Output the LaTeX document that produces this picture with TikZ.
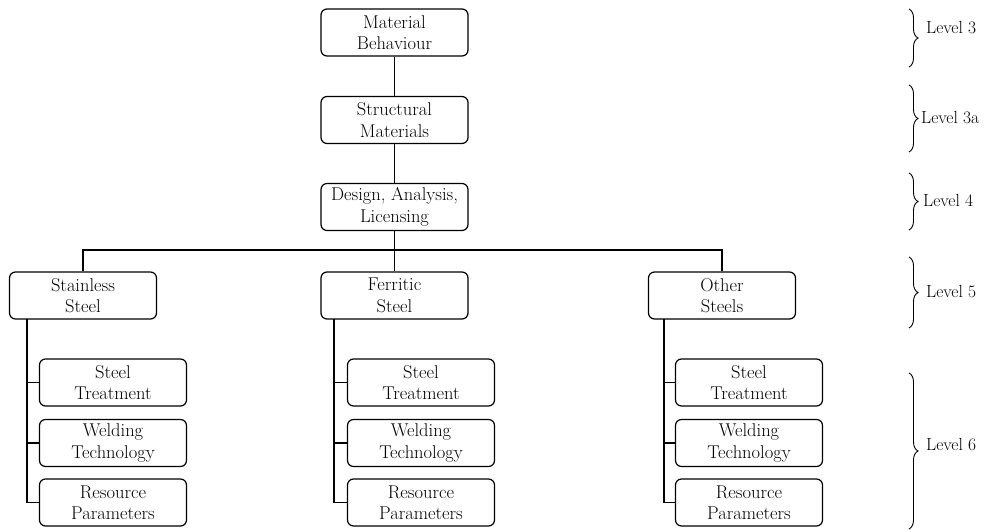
\documentclass[tikz,border=0pt]{standalone}
\usetikzlibrary{decorations.pathreplacing}
\begin{document}
\begin{tikzpicture}[x=1pt,y=-1pt,
  box/.style={draw, rounded corners=6pt, line width=1.2pt,
    minimum width=147pt, minimum height=47pt, align=center, inner sep=0pt,
    font=\rmfamily\fontsize{18.5}{21.5}\selectfont},
  link/.style={line width=1.2pt},
  lvlbrace/.style={decorate, decoration={brace, amplitude=9pt}, line width=0.9pt},
  lvltext/.style={anchor=west, inner sep=0pt, font=\rmfamily\fontsize{17.5}{21}\selectfont}]
\useasboundingbox (0,0) rectangle (1005,531);

% upper chain
\node[box] (mb)  at (394.5,32.5) {Material\\Behaviour};
\node[box] (sm)  at (394.5,120)  {Structural\\Materials};
\node[box] (dal) at (394.5,207)  {Design, Analysis,\\Licensing};

% steel families
\node[box] (ss) at (83,295.5)  {Stainless\\Steel};
\node[box] (fs) at (394.5,295.5) {Ferritic\\Steel};
\node[box] (os) at (722,295.5) {Other\\Steels};

% topics under each family
\foreach \fam/\cx in {ss/113, fs/421, os/749}{
  \node[box] (\fam t) at (\cx,382.5) {Steel\\Treatment};
  \node[box] (\fam w) at (\cx,443)   {Welding\\Technology};
  \node[box] (\fam r) at (\cx,502.5) {Resource\\Parameters};
}

\coordinate (bus) at (394.5,250);

\draw[link] (mb) -- (sm);
\draw[link] (sm) -- (dal);
\draw[link] (dal) -- (fs);
\draw[link] (ss.north) -- (ss.north |- bus) -- (os.north |- bus) -- (os.north);

\foreach \fam/\tx in {ss/27, fs/334, os/664}{
  \coordinate (\fam trunk) at (\tx,319);
  \draw[link] (\fam trunk) |- (\fam r.west);
  \draw[link] (\fam trunk |- \fam t.west) -- (\fam t.west);
  \draw[link] (\fam trunk |- \fam w.west) -- (\fam w.west);
}

% level braces
\draw[lvlbrace] (909,9)   -- (909,67);
\draw[lvlbrace] (909,85)  -- (909,152);
\draw[lvlbrace] (909,173) -- (909,230);
\draw[lvlbrace] (909,257) -- (909,328);
\draw[lvlbrace] (909,373) -- (909,529);

\node[lvltext] (l3)  at (926,28)  {Level 3};
\node[lvltext] (l3a) at (921,118) {Level 3a};
\node[lvltext] (l4)  at (923,200) {Level 4};
\node[lvltext] (l5)  at (926,292) {Level 5};
\node[lvltext] (l6)  at (926,445) {Level 6};
\end{tikzpicture}
\end{document}
